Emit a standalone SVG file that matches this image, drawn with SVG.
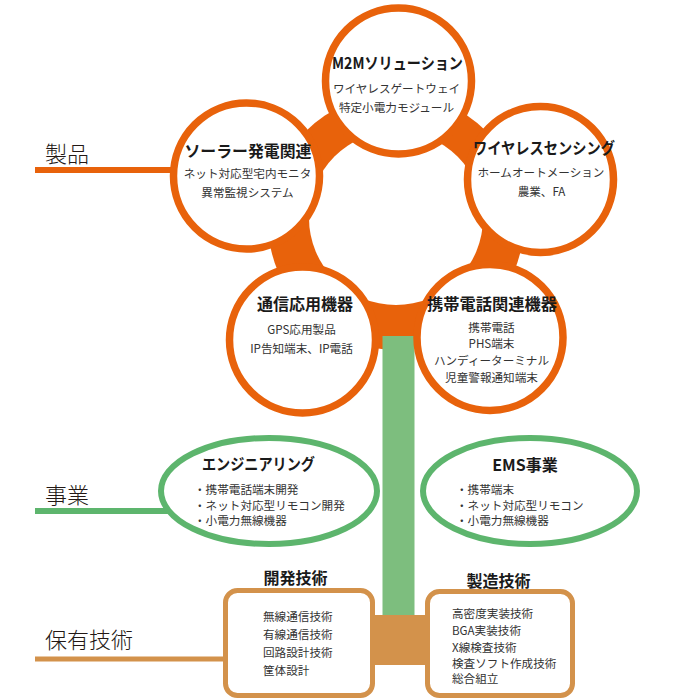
<svg xmlns="http://www.w3.org/2000/svg" width="680" height="700" viewBox="0 0 680 700">
<style>
.ring{fill:#fff;stroke:#E8620B;stroke-width:7.5}
.ell{fill:#fff;stroke:#5DB56D;stroke-width:6}
.box{fill:#fff;stroke:#D3924B;stroke-width:5}
text{font-family:"Noto Sans CJK JP","Noto Sans",sans-serif;dominant-baseline:central}
.t{font-size:16px;font-weight:bold;fill:#1a1a1a;text-anchor:middle}
.b{font-size:11.6px;fill:#333;text-anchor:middle}
.bl{font-size:11.6px;fill:#333;text-anchor:start}
.lab{font-size:22px;fill:#231815;font-weight:300;text-anchor:start}
</style>
<rect width="680" height="700" fill="#fff"/>
<g id="connectors">
  <line x1="35" y1="170" x2="185" y2="170" stroke="#E8620B" stroke-width="6"/>
  <line x1="35" y1="511" x2="175" y2="511" stroke="#5DB56D" stroke-width="6"/>
  <line x1="35" y1="659" x2="228" y2="659" stroke="#D3924B" stroke-width="5"/>
  <circle cx="396" cy="222" r="128" fill="#E8620B"/>
  <circle cx="396" cy="218" r="87" fill="#fff"/>
  <rect x="382.5" y="336" width="32" height="282" fill="#7DBE7E"/>
  <rect x="372" y="615" width="56" height="50" fill="#D3924B"/>
</g>
<g id="labels">
  <text class="lab" x="45" y="152">製品</text>
  <text class="lab" x="45" y="493">事業</text>
  <text class="lab" x="45" y="638">保有技術</text>
</g>
<g id="m2m">
  <circle class="ring" cx="398.5" cy="81" r="73"/>
  <text class="t" x="397.5" y="62" textLength="131" lengthAdjust="spacingAndGlyphs">M2Mソリューション</text>
  <text class="b" x="396.5" y="88">ワイヤレスゲートウェイ</text>
  <text class="b" x="396.5" y="107">特定小電力モジュール</text>
</g>
<g id="solar">
  <circle class="ring" cx="246.5" cy="176" r="73"/>
  <text class="t" x="248" y="150" textLength="127" lengthAdjust="spacingAndGlyphs">ソーラー発電関連</text>
  <text class="b" x="247.5" y="173">ネット対応型宅内モニタ</text>
  <text class="b" x="247.5" y="192">異常監視システム</text>
</g>
<g id="wireless">
  <circle class="ring" cx="540.5" cy="179.5" r="73"/>
  <text class="t" x="544" y="147" textLength="142" lengthAdjust="spacingAndGlyphs">ワイヤレスセンシング</text>
  <text class="b" x="541" y="172">ホームオートメーション</text>
  <text class="b" x="541.5" y="191">農業、FA</text>
</g>
<g id="tsushin">
  <circle class="ring" cx="302.5" cy="340" r="73"/>
  <text class="t" x="305" y="303">通信応用機器</text>
  <text class="b" x="301.5" y="329">GPS応用製品</text>
  <text class="b" x="301.5" y="348">IP告知端末、IP電話</text>
</g>
<g id="keitai">
  <circle class="ring" cx="490" cy="337.5" r="73"/>
  <text class="t" x="492" y="303" textLength="130" lengthAdjust="spacingAndGlyphs">携帯電話関連機器</text>
  <text class="b" x="491.5" y="327">携帯電話</text>
  <text class="b" x="491.5" y="343">PHS端末</text>
  <text class="b" x="491.5" y="360">ハンディーターミナル</text>
  <text class="b" x="491.5" y="377">児童警報通知端末</text>
</g>
<g id="engineering">
  <ellipse class="ell" cx="269" cy="491" rx="108" ry="53"/>
  <text class="t" x="258.5" y="463" font-size="15" textLength="113" lengthAdjust="spacingAndGlyphs">エンジニアリング</text>
  <text class="bl" x="194" y="489">・携帯電話端末開発</text>
  <text class="bl" x="194" y="505">・ネット対応型リモコン開発</text>
  <text class="bl" x="194" y="520">・小電力無線機器</text>
</g>
<g id="ems">
  <ellipse class="ell" cx="530" cy="491" rx="107" ry="53"/>
  <text class="t" x="525" y="464">EMS事業</text>
  <text class="bl" x="456" y="489">・携帯端末</text>
  <text class="bl" x="456" y="505">・ネット対応型リモコン</text>
  <text class="bl" x="456" y="520">・小電力無線機器</text>
</g>
<g id="kaihatsu">
  <text class="t" x="295.5" y="577">開発技術</text>
  <rect class="box" x="225.5" y="590.5" width="147" height="105" rx="12"/>
  <text class="bl" x="263" y="616">無線通信技術</text>
  <text class="bl" x="263" y="634">有線通信技術</text>
  <text class="bl" x="263" y="652">回路設計技術</text>
  <text class="bl" x="263" y="670">筐体設計</text>
</g>
<g id="seizo">
  <text class="t" x="498.5" y="580">製造技術</text>
  <rect class="box" x="427.5" y="591.5" width="145" height="104" rx="12"/>
  <text class="bl" x="452" y="613">高密度実装技術</text>
  <text class="bl" x="452" y="630">BGA実装技術</text>
  <text class="bl" x="452" y="647">X線検査技術</text>
  <text class="bl" x="452" y="663">検査ソフト作成技術</text>
  <text class="bl" x="452" y="678">総合組立</text>
</g>
</svg>
